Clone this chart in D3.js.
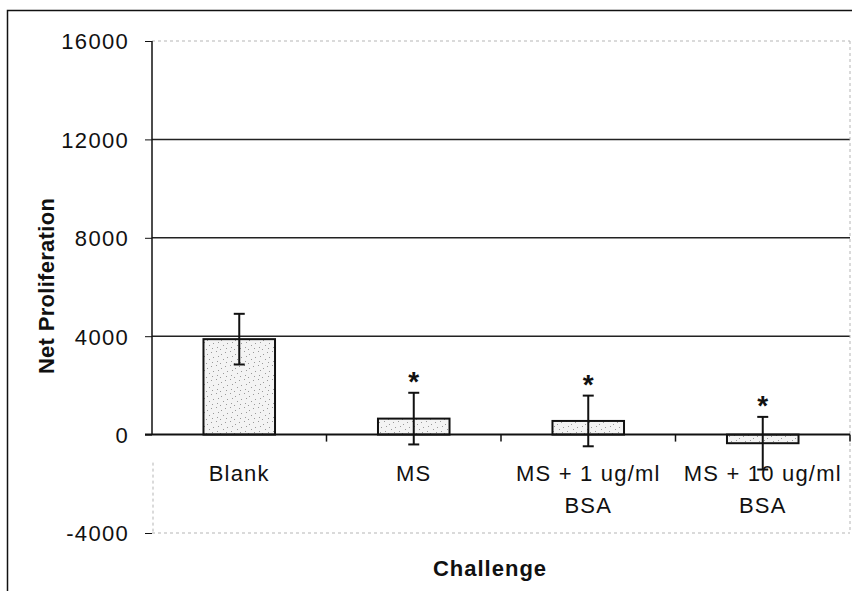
<!DOCTYPE html>
<html>
<head>
<meta charset="utf-8">
<script src="https://cdn.jsdelivr.net/npm/d3@7/dist/d3.min.js"></script>
<style>
  html, body { margin: 0; padding: 0; background: #fff; }
  svg { display: block; }
  text { font-family: "Liberation Sans", Arial, sans-serif; fill: #111; }
</style>
</head>
<body>
<script>
// Net proliferation by challenge condition (mean ± error)
const categories = ["Blank", "MS", "MS + 1 ug/ml BSA", "MS + 10 ug/ml BSA"];
const categoryLines = [["Blank"], ["MS"], ["MS + 1 ug/ml", "BSA"], ["MS + 10 ug/ml", "BSA"]];
const values = [3880, 650, 555, -350];
const errors = [1030, 1050, 1030, 1070];
const significant = [false, true, true, true];
const yTicks = [-4000, 0, 4000, 8000, 12000, 16000];
const yLabel = "Net Proliferation";
const xLabel = "Challenge";

const W = 852, H = 591;
const margin = { left: 152, right: 2, top: 41, bottom: 58 };

const svg = d3.select("body").append("svg").attr("width", W).attr("height", H);

// stippled fill for the bars
const defs = svg.append("defs");
const pat = defs.append("pattern")
  .attr("id", "stipple").attr("patternUnits", "userSpaceOnUse")
  .attr("width", 14).attr("height", 14);
pat.append("rect").attr("width", 14).attr("height", 14).attr("fill", "#f3f3f3");
const dots = [[1,2],[6,1],[11,4],[3,7],[8,6],[13,9],[2,12],[7,11],[10,13]];
pat.selectAll("rect.d").data(dots).enter().append("rect").attr("class", "d")
  .attr("x", d => d[0]).attr("y", d => d[1]).attr("width", 1).attr("height", 1)
  .attr("fill", "#9a9a9a");

// outer chart frame
svg.append("path").attr("d", "M7.5,600 V10.5 H860")
  .attr("fill", "none").attr("stroke", "#111").attr("stroke-width", 1.5);

const x = d3.scaleBand().domain(categories)
  .range([margin.left, W - margin.right])
  .paddingInner(0.59).paddingOuter(0.295);
const y = d3.scaleLinear().domain([-4000, 16000])
  .range([H - margin.bottom, margin.top]);

const x0 = margin.left, x1 = W - margin.right;

// gridlines
svg.append("g").selectAll("line").data(yTicks.filter(t => t > 0 && t < 16000)).enter()
  .append("line")
  .attr("x1", x0).attr("x2", x1).attr("y1", d => y(d)).attr("y2", d => y(d))
  .attr("stroke", "#222").attr("stroke-width", 1.5);

// faint plot-area border (top, bottom, right)
const faint = svg.append("g").attr("stroke", "#b5b5b5").attr("stroke-width", 1)
  .attr("stroke-dasharray", "3,3").attr("fill", "none");
faint.append("line").attr("x1", x0).attr("x2", x1).attr("y1", y(16000)).attr("y2", y(16000));
faint.append("line").attr("x1", x0).attr("x2", x1).attr("y1", y(-4000)).attr("y2", y(-4000));
faint.append("line").attr("x1", x1).attr("x2", x1).attr("y1", y(16000)).attr("y2", y(-4000));
faint.append("line").attr("x1", x0 + 1).attr("x2", x0 + 1).attr("y1", y(0) + 28).attr("y2", y(-4000));

// y axis (solid above zero)
svg.append("line").attr("x1", x0).attr("x2", x0).attr("y1", y(16000)).attr("y2", y(0))
  .attr("stroke", "#111").attr("stroke-width", 1.5);

const yAxis = d3.axisLeft(y).tickValues(yTicks).tickSize(7).tickPadding(16)
  .tickFormat(d => String(d));
const gy = svg.append("g").attr("transform", `translate(${x0},0)`).call(yAxis);
gy.select(".domain").remove();
gy.selectAll(".tick line").attr("stroke", "#111").attr("stroke-width", 1);
gy.selectAll(".tick text")
  .style("font-family", "'Liberation Sans', Arial, sans-serif")
  .style("font-size", "22px").style("letter-spacing", "1.3px").attr("fill", "#111")
  .attr("dy", "0.36em");

// bars
svg.append("g").selectAll("rect").data(categories).enter().append("rect")
  .attr("x", d => x(d))
  .attr("width", x.bandwidth())
  .attr("y", (d, i) => y(Math.max(0, values[i])))
  .attr("height", (d, i) => Math.abs(y(values[i]) - y(0)))
  .attr("fill", "url(#stipple)").attr("stroke", "#111").attr("stroke-width", 2);

// zero line with category ticks
svg.append("line").attr("x1", x0 - 7).attr("x2", x1).attr("y1", y(0)).attr("y2", y(0))
  .attr("stroke", "#111").attr("stroke-width", 2);
const boundaries = categories.slice(1).map(c => x(c) - x.step() * x.paddingInner() / 2).concat([x1]);
svg.append("g").selectAll("line").data(boundaries).enter().append("line")
  .attr("x1", d => d).attr("x2", d => d).attr("y1", y(0)).attr("y2", y(0) + 7)
  .attr("stroke", "#111").attr("stroke-width", 1.5);

// error bars
const cap = 5.5;
const eb = svg.append("g").attr("stroke", "#111").attr("stroke-width", 2);
categories.forEach((c, i) => {
  const cx = x(c) + x.bandwidth() / 2;
  const hi = y(values[i] + errors[i]), lo = y(values[i] - errors[i]);
  eb.append("line").attr("x1", cx).attr("x2", cx).attr("y1", hi).attr("y2", lo);
  eb.append("line").attr("x1", cx - cap).attr("x2", cx + cap).attr("y1", hi).attr("y2", hi);
  eb.append("line").attr("x1", cx - cap).attr("x2", cx + cap).attr("y1", lo).attr("y2", lo);
});

// significance markers
svg.append("g").selectAll("text").data(categories.filter((c, i) => significant[i])).enter()
  .append("text")
  .attr("x", d => x(d) + x.bandwidth() / 2)
  .attr("y", d => { const i = categories.indexOf(d); return y(values[i] + errors[i]) - 2; })
  .attr("text-anchor", "middle")
  .style("font-size", "28px").style("font-weight", "bold")
  .text("*");

// category labels
const lab = svg.append("g");
categories.forEach((c, i) => {
  const cx = x(c) + x.bandwidth() / 2;
  categoryLines[i].forEach((ln, j) => {
    lab.append("text").attr("x", cx).attr("y", 481 + j * 32)
      .attr("text-anchor", "middle")
      .style("font-size", "22px").style("letter-spacing", "1.2px")
      .text(ln);
  });
});

// axis titles
svg.append("text").attr("x", 490).attr("y", 576).attr("text-anchor", "middle")
  .style("font-size", "22px").style("font-weight", "bold").style("letter-spacing", "1px")
  .text(xLabel);
svg.append("text")
  .attr("transform", `translate(54,${(200 + 372) / 2}) rotate(-90)`)
  .attr("text-anchor", "middle")
  .style("font-size", "22px").style("font-weight", "bold").style("letter-spacing", "0.3px")
  .text(yLabel);
</script>
</body>
</html>
